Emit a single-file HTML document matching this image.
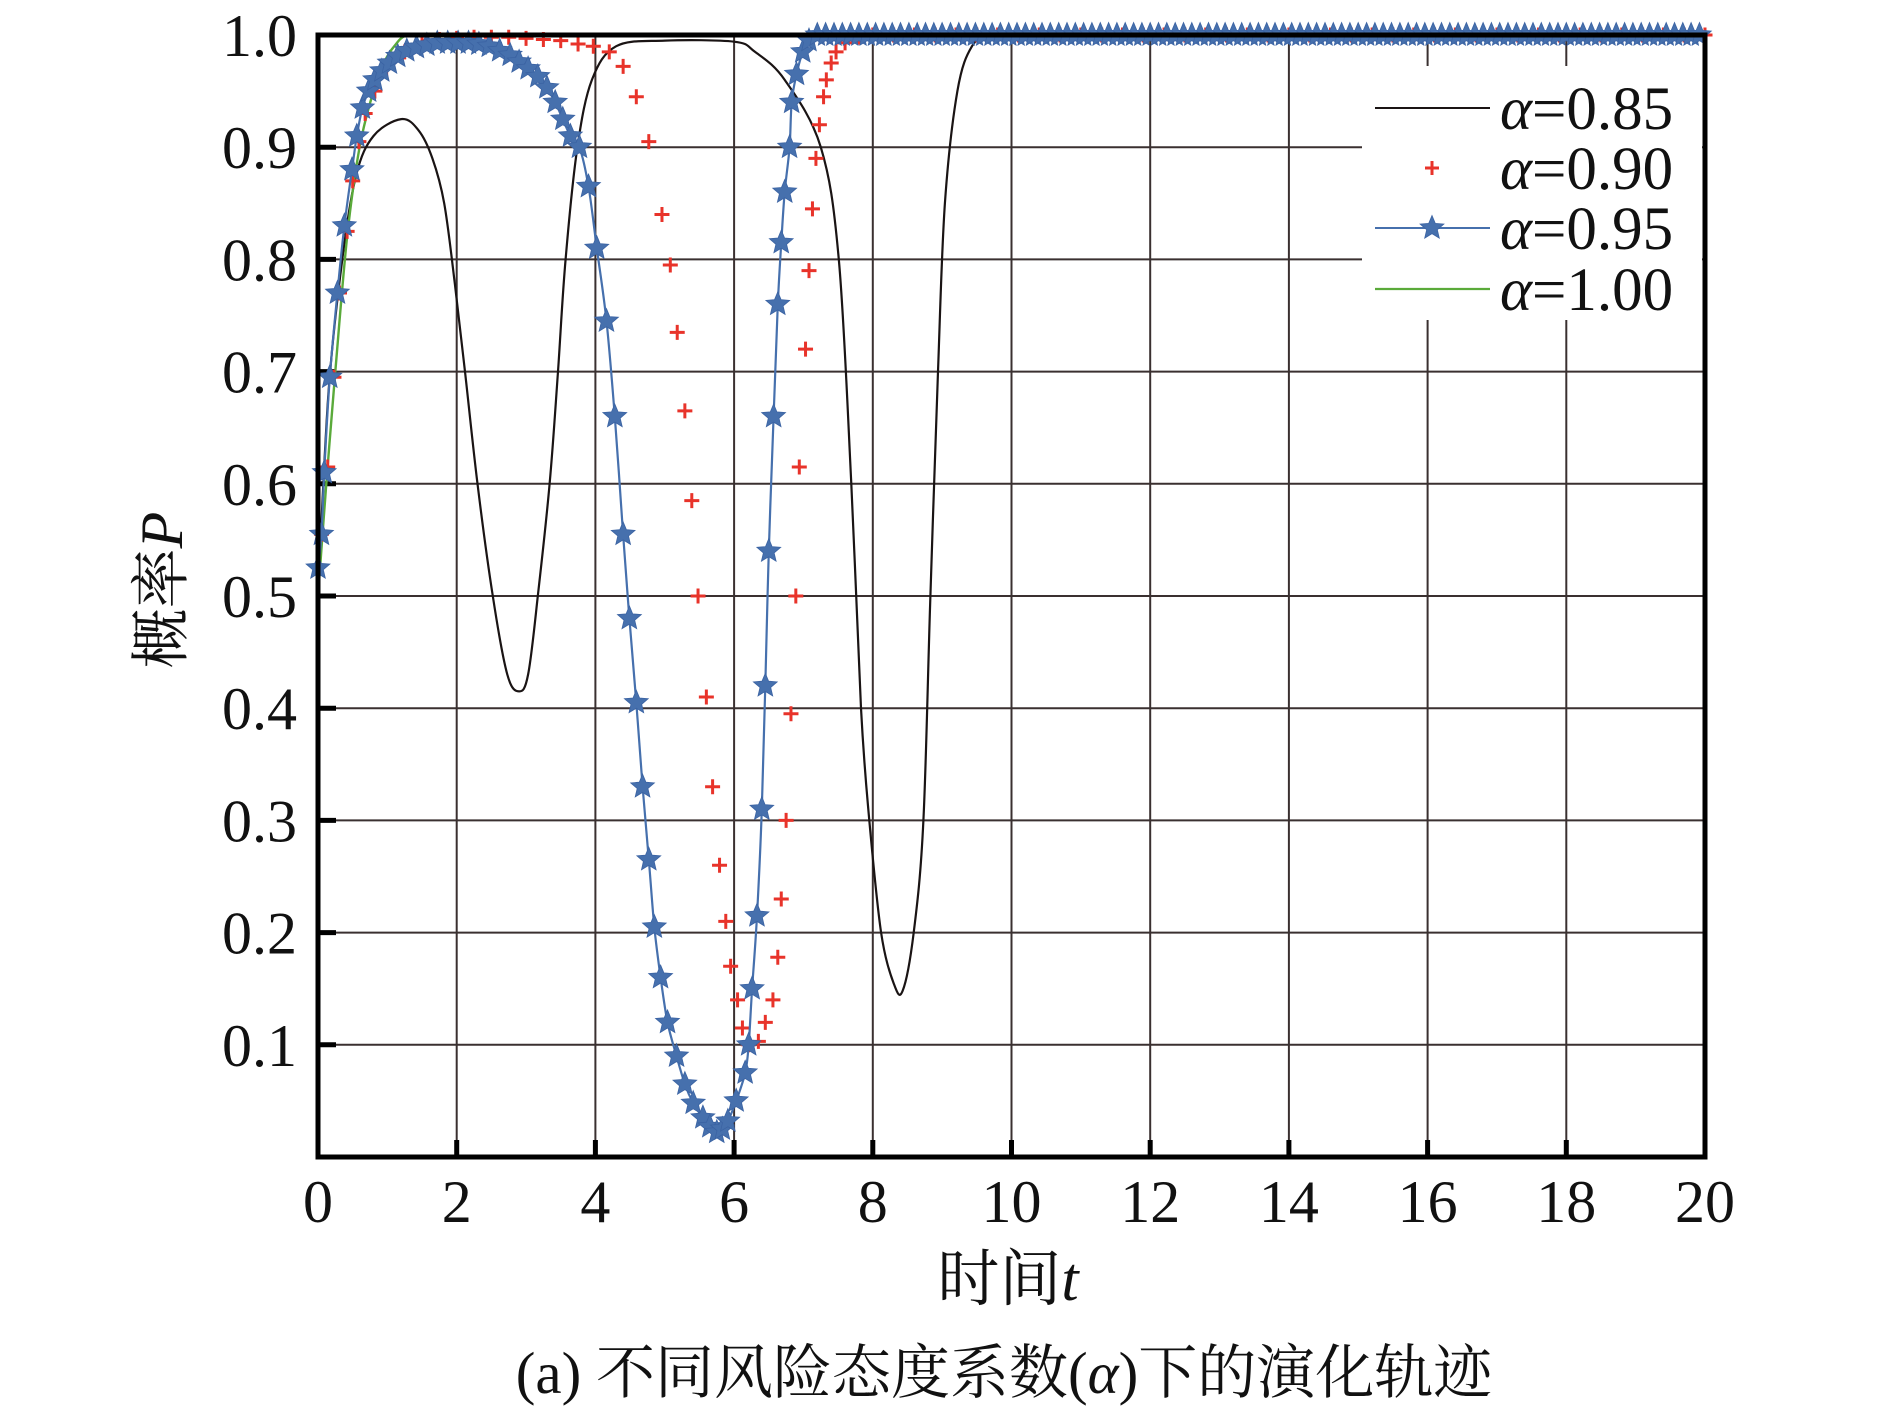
<!DOCTYPE html>
<html><head><meta charset="utf-8"><style>
html,body{margin:0;padding:0;background:#fff;}
svg{display:block;}
.num{font-family:"Liberation Serif",serif;}
.cjk{font-family:"Liberation Serif","Noto Serif CJK SC",serif;}
</style></head><body>
<svg id="s" width="1890" height="1417" viewBox="0 0 1890 1417" xmlns="http://www.w3.org/2000/svg">
<defs><clipPath id="cp"><rect x="300" y="20" width="1420" height="1137"/></clipPath></defs>
<rect width="1890" height="1417" fill="#fff"/>
<g id="grid"></g>
<g id="series" clip-path="url(#cp)"></g>
<rect x="1362" y="66" width="340" height="254" fill="#fff"/>
<g id="legend"></g>
<rect x="318" y="35" width="1387" height="1122" fill="none" stroke="#000" stroke-width="5"/>
<g id="labels" class="num" font-size="60" fill="#111"></g>
<text class="cjk" x="1008" y="1300" text-anchor="middle" font-size="62" fill="#111">时间<tspan font-style="italic">t</tspan></text>
<text class="cjk" x="1004" y="1393" text-anchor="middle" font-size="59" fill="#111">(a) 不同风险态度系数(<tspan font-style="italic">α</tspan>)下的演化轨迹</text>
<text class="cjk" transform="translate(182,590) rotate(-90)" text-anchor="middle" font-size="60" fill="#111">概率<tspan font-style="italic">P</tspan></text>
</svg>
<script>
const NS="http://www.w3.org/2000/svg";
const X=t=>318+69.35*t, Y=p=>1157-1122*p;
function el(tag,attrs,parent,txt){const e=document.createElementNS(NS,tag);for(const k in attrs)e.setAttribute(k,attrs[k]);if(txt!==undefined)e.textContent=txt;parent.appendChild(e);return e;}
const grid=document.getElementById('grid'),ser=document.getElementById('series'),lab=document.getElementById('labels'),leg=document.getElementById('legend');
for(let i=1;i<10;i++){el('line',{x1:X(i*2),x2:X(i*2),y1:35,y2:1157,stroke:'#3a3030','stroke-width':2},grid);
 el('line',{x1:X(i*2),x2:X(i*2),y1:1140,y2:1157,stroke:'#000','stroke-width':5},grid);}
for(let i=1;i<10;i++){el('line',{x1:318,x2:1705,y1:Y(i/10),y2:Y(i/10),stroke:'#3a3030','stroke-width':2},grid);
 el('line',{x1:318,x2:336,y1:Y(i/10),y2:Y(i/10),stroke:'#000','stroke-width':5},grid);}
for(let i=0;i<=10;i++){el('text',{x:X(i*2),y:1222,'text-anchor':'middle'},lab,String(i*2));}
for(let i=1;i<=10;i++){el('text',{x:297,y:Y(i/10)+21,'text-anchor':'end'},lab,(i/10).toFixed(1));}
function path(pts){let d='M'+X(pts[0][0]).toFixed(1)+' '+Y(pts[0][1]).toFixed(1);
 for(let i=0;i<pts.length-1;i++){const p0=pts[Math.max(0,i-1)],p1=pts[i],p2=pts[i+1],p3=pts[Math.min(pts.length-1,i+2)];
  const a=[X(p0[0]),Y(p0[1])],b=[X(p1[0]),Y(p1[1])],c=[X(p2[0]),Y(p2[1])],e=[X(p3[0]),Y(p3[1])];
  const c1=[b[0]+(c[0]-a[0])/6,b[1]+(c[1]-a[1])/6],c2=[c[0]-(e[0]-b[0])/6,c[1]-(e[1]-b[1])/6];
  d+=' C'+c1[0].toFixed(1)+' '+c1[1].toFixed(1)+' '+c2[0].toFixed(1)+' '+c2[1].toFixed(1)+' '+c[0].toFixed(1)+' '+c[1].toFixed(1);}
 return d;}
function ext(arr,from,step){for(let t=from;t<=20.001;t+=step)arr.push([t,1.0]);return arr;}
const blk=ext([[0,0.5],[0.15,0.68],[0.35,0.8],[0.55,0.875],[0.8,0.91],[1.2,0.925],[1.45,0.915],[1.65,0.89],[1.82,0.85],[1.97,0.78],[2.12,0.7],[2.3,0.6],[2.52,0.5],[2.73,0.43],[2.9,0.415],[3.03,0.43],[3.17,0.5],[3.34,0.6],[3.46,0.7],[3.57,0.8],[3.74,0.9],[3.95,0.96],[4.3,0.99],[5,0.995],[6,0.994],[6.3,0.985],[6.73,0.96],[7.25,0.9],[7.51,0.8],[7.69,0.6],[7.83,0.4],[7.95,0.3],[8.12,0.2],[8.3,0.155],[8.43,0.148],[8.59,0.2],[8.73,0.3],[8.83,0.5],[8.94,0.7],[9.04,0.85],[9.22,0.95],[9.43,0.99],[9.7,1.0]],10.2,0.5);
const grn=ext([[0,0.5],[0.12,0.6],[0.25,0.7],[0.42,0.82],[0.6,0.9],[0.8,0.95],[0.95,0.975],[1.1,0.99],[1.3,1.0]],1.8,0.5);
const blu=[[0,0.525],[0.05,0.555],[0.09,0.61],[0.17,0.695],[0.28,0.77],[0.38,0.83],[0.49,0.88],[0.56,0.91],[0.64,0.935],[0.73,0.95],[0.82,0.96],[0.92,0.968],[1.03,0.975],[1.15,0.981],[1.28,0.986],[1.42,0.989],[1.57,0.991],[1.72,0.993],[1.87,0.993],[2.02,0.993],[2.17,0.993],[2.32,0.992],[2.47,0.99],[2.62,0.986],[2.77,0.982],[2.9,0.976],[3.03,0.97],[3.17,0.963],[3.3,0.953],[3.42,0.94],[3.53,0.925],[3.64,0.91],[3.77,0.9],[3.9,0.865],[4.02,0.81],[4.16,0.745],[4.28,0.66],[4.4,0.555],[4.49,0.48],[4.59,0.405],[4.68,0.33],[4.77,0.265],[4.85,0.205],[4.94,0.16],[5.04,0.12],[5.17,0.09],[5.29,0.065],[5.41,0.048],[5.55,0.035],[5.65,0.027],[5.75,0.022],[5.83,0.025],[5.91,0.032],[6.03,0.05],[6.16,0.075],[6.21,0.1],[6.26,0.15],[6.33,0.215],[6.4,0.31],[6.45,0.42],[6.5,0.54],[6.57,0.66],[6.63,0.76],[6.68,0.815],[6.73,0.86],[6.8,0.9],[6.83,0.94],[6.9,0.965],[6.99,0.985],[7.08,0.995],[7.2,1.0]];
ext(blu,7.32,0.12);
const red=[[0.05,0.555],[0.14,0.615],[0.23,0.695],[0.31,0.77],[0.42,0.825],[0.5,0.87],[0.59,0.905],[0.68,0.93],[0.82,0.95],[0.99,0.97],[1.25,0.985],[1.5,0.992],[1.75,0.996],[2.0,0.997],[2.25,0.998],[2.5,0.998],[2.75,0.998],[3.0,0.997],[3.25,0.996],[3.5,0.995],[3.75,0.992],[3.97,0.99],[4.2,0.985],[4.4,0.972],[4.59,0.945],[4.77,0.905],[4.96,0.84],[5.08,0.795],[5.18,0.735],[5.29,0.665],[5.39,0.585],[5.48,0.5],[5.6,0.41],[5.69,0.33],[5.79,0.26],[5.88,0.21],[5.95,0.17],[6.05,0.14],[6.12,0.115],[6.21,0.1],[6.35,0.103],[6.45,0.12],[6.56,0.14],[6.63,0.178],[6.68,0.23],[6.75,0.3],[6.82,0.395],[6.89,0.5],[6.94,0.615],[7.03,0.72],[7.08,0.79],[7.13,0.845],[7.18,0.89],[7.23,0.92],[7.29,0.945],[7.33,0.96],[7.4,0.975],[7.47,0.985],[7.6,0.993],[7.8,0.998]];
ext(red,8.0,0.3);
el('path',{d:path(blk),fill:'none',stroke:'#1a1414','stroke-width':2.2},ser);
el('path',{d:path(grn),fill:'none',stroke:'#5aaa3a','stroke-width':2.4},ser);
function plus(x,y,g,s){el('path',{d:`M${x-s},${y}H${x+s}M${x},${y-s}V${y+s}`,stroke:'#e8332a','stroke-width':3,fill:'none'},g);}
for(const p of red)plus(X(p[0]),Y(p[1]),ser,7.5);
el('path',{d:path(blu),fill:'none',stroke:'#4670ad','stroke-width':2.2},ser);
function star(x,y,r,g){let d='';for(let i=0;i<10;i++){const a=-Math.PI/2+i*Math.PI/5,rr=i%2?r*0.45:r;d+=(i?'L':'M')+(x+rr*Math.cos(a)).toFixed(1)+','+(y+rr*Math.sin(a)).toFixed(1);}el('path',{d:d+'Z',fill:'#4670ad',stroke:'#3b63a3','stroke-width':0.8},g);}
for(const p of blu)star(X(p[0]),Y(p[1]),12.5,ser);
const rows=[108,168,228,289];
el('line',{x1:1375,x2:1490,y1:rows[0],y2:rows[0],stroke:'#1a1414','stroke-width':2},leg);
plus(1432,rows[1],leg,7);
el('line',{x1:1375,x2:1490,y1:rows[2],y2:rows[2],stroke:'#4670ad','stroke-width':2},leg);
star(1432,rows[2],12.5,leg);
el('line',{x1:1375,x2:1490,y1:rows[3],y2:rows[3],stroke:'#5aaa3a','stroke-width':2.2},leg);
const names=['0.85','0.90','0.95','1.00'];
rows.forEach((y,i)=>{const t=el('text',{x:1500,y:y+21,'font-size':61,fill:'#111','class':'num'},leg);
 el('tspan',{'font-style':'italic'},t,'α');el('tspan',{},t,'='+names[i]);});
</script>
</body></html>
